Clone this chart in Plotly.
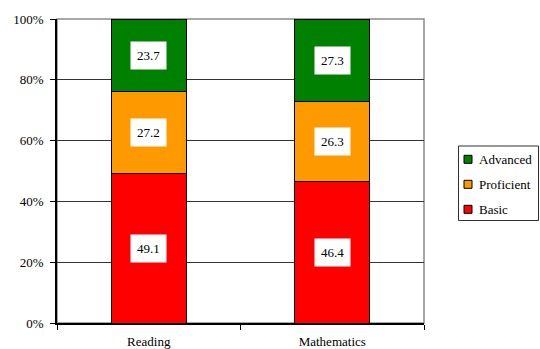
import plotly.graph_objects as go

categories = ["Reading", "Mathematics"]
series_names = ["Basic", "Proficient", "Advanced"]
basic = [49.1, 46.4]
proficient = [27.2, 26.3]
advanced = [23.7, 27.3]
colors = {"Basic": "#FF0000", "Proficient": "#FF9900", "Advanced": "#008000"}
legend_order = ["Advanced", "Proficient", "Basic"]
yticks = [0, 20, 40, 60, 80, 100]

values = {"Basic": basic, "Proficient": proficient, "Advanced": advanced}
FONT = "Liberation Serif"

W, H = 540, 349
L, R, T, B = 57, 116, 19, 26
PW, PH = W - L - R, H - T - B


def px_x(px):
    return (px - L) / PW


def px_y(py):
    return (H - B - py) / PH


fig = go.Figure()
for name in series_names:
    fig.add_trace(go.Bar(
        x=categories, y=values[name], name=name,
        marker=dict(color=colors[name], line=dict(color="black", width=1)),
        width=0.41, showlegend=False,
    ))

annotations = []
for i, cat in enumerate(categories):
    base = 0
    for name in series_names:
        v = values[name][i]
        annotations.append(dict(
            x=cat, y=base + v / 2, xref="x", yref="y",
            text=f"{v:.1f}", showarrow=False,
            bgcolor="white", borderpad=6,
            font=dict(family=FONT, size=13, color="black"),
        ))
        base += v

shapes = [dict(type="rect", xref="paper", yref="paper", x0=0, y0=0, x1=1, y1=1,
               line=dict(color="#8a8a8a", width=1.5), layer="below")]

# manual legend
shapes.append(dict(type="rect", xref="paper", yref="paper",
                   x0=px_x(458.5), x1=px_x(538.5), y0=px_y(220.5), y1=px_y(146),
                   line=dict(color="#303030", width=1), fillcolor="white"))
row_y = [159.3, 184.3, 209.3]
for name, cy in zip(legend_order, row_y):
    shapes.append(dict(type="rect", xref="paper", yref="paper",
                       x0=px_x(464), x1=px_x(472), y0=px_y(cy + 4), y1=px_y(cy - 4),
                       line=dict(color="black", width=1), fillcolor=colors[name]))
    annotations.append(dict(x=px_x(476.5), y=px_y(cy), xref="paper", yref="paper",
                            xanchor="left", yanchor="middle", text=name, showarrow=False,
                            font=dict(family=FONT, size=13, color="black")))

fig.update_layout(
    width=W, height=H,
    margin=dict(l=L, r=R, t=T, b=B, autoexpand=False),
    barmode="stack",
    plot_bgcolor="white", paper_bgcolor="white",
    font=dict(family=FONT, size=13, color="black"),
    annotations=annotations,
    shapes=shapes,
    showlegend=False,
)
fig.update_yaxes(
    range=[0, 100], tickvals=yticks, ticktext=[f"{t}%" for t in yticks],
    showgrid=True, gridcolor="#333333", gridwidth=1,
    showline=True, linecolor="black", linewidth=1.5,
    ticks="outside", ticklen=5, tickcolor="black", ticklabelstandoff=4,
    zeroline=False,
)
fig.update_xaxes(
    showline=True, linecolor="black", linewidth=1.5,
    ticks="outside", ticklen=5, tickcolor="black", tickson="boundaries",
    ticklabelstandoff=6,
    showgrid=False,
)
fig.write_html("out.html")
